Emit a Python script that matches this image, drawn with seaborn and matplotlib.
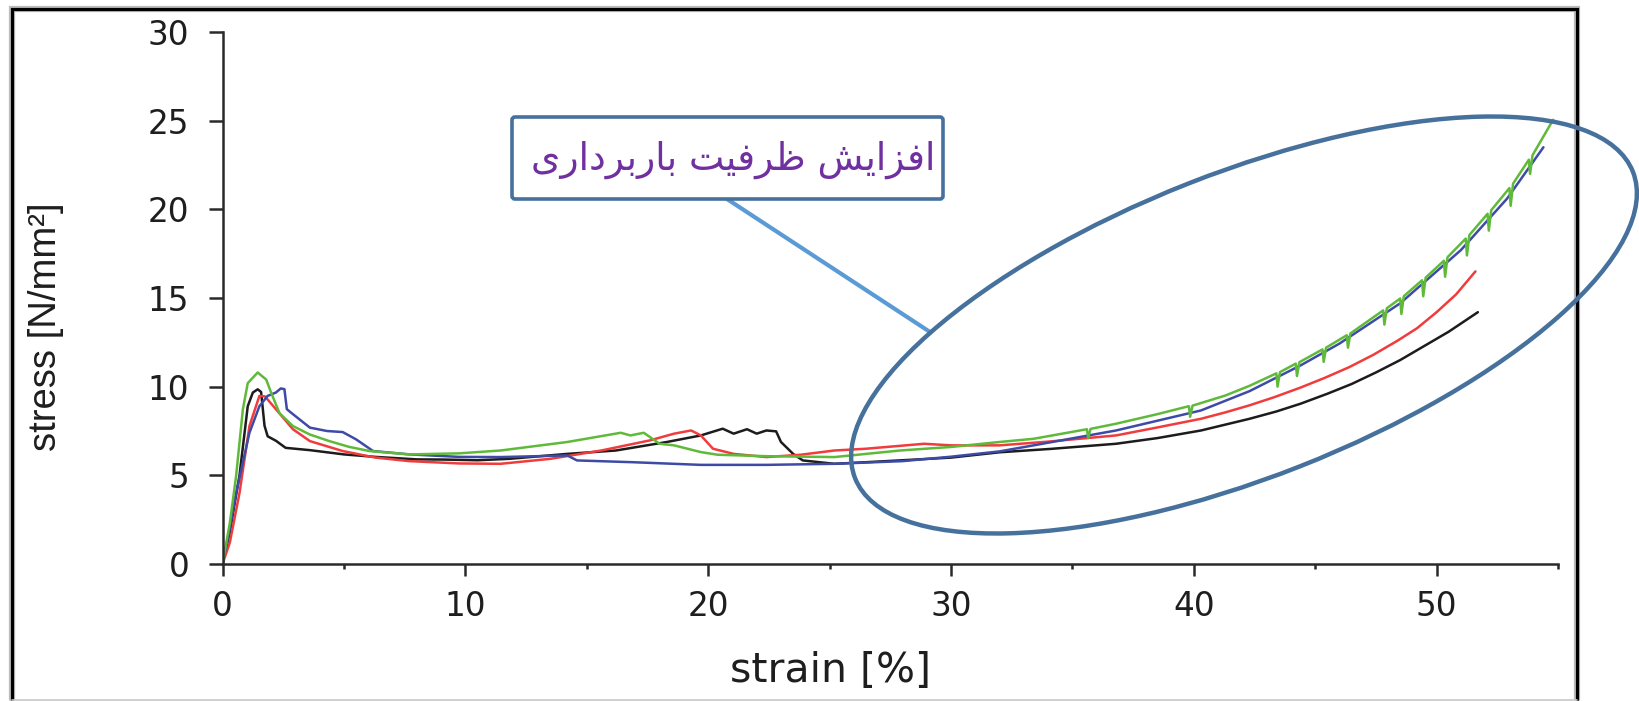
import matplotlib
matplotlib.use("Agg")
import numpy as np
import pandas as pd
import seaborn as sns
import matplotlib.pyplot as plt
from matplotlib.patches import Ellipse, FancyBboxPatch
from matplotlib.ticker import MultipleLocator
import matplotlib.font_manager as fm
from matplotlib.ft2font import FT2Font

# ---------------- data ----------------
black_strain = [0, 0.3, 0.7, 1.04, 1.25, 1.45, 1.59, 1.73, 1.86, 2.2, 2.6, 3.6, 5.0, 6.3, 8.0,
                9.1, 10.5, 11.8, 14.2, 16.2, 18.3, 19.7, 20.6, 21.05, 21.6, 22.0, 22.4, 22.8,
                23.0, 23.5, 23.9, 25.2, 26.5, 28.0, 30.0, 32.0, 34.1, 36.8, 38.5, 40.3, 42.3,
                43.4, 44.4, 45.5, 46.5, 47.5, 48.5, 49.5, 50.5, 51.7]
black_stress = [0, 1.8, 5.0, 8.9, 9.67, 9.85, 9.7, 7.8, 7.2, 6.95, 6.55, 6.42, 6.18, 6.04, 5.9,
                5.89, 5.85, 5.93, 6.21, 6.4, 6.88, 7.25, 7.63, 7.35, 7.6, 7.35, 7.53, 7.48,
                6.88, 6.21, 5.84, 5.65, 5.74, 5.85, 6.0, 6.3, 6.49, 6.78, 7.1, 7.53, 8.19,
                8.6, 9.04, 9.6, 10.15, 10.8, 11.5, 12.3, 13.1, 14.2]

red_strain = [0, 0.3, 0.7, 1.11, 1.52, 1.75, 2.2, 2.9, 3.6, 4.95, 6.3, 7.7, 9.75, 11.45, 13.5,
              15.6, 17.6, 18.6, 19.3, 19.7, 20.2, 21.05, 22.4, 23.8, 25.2, 26.5, 28.9, 30.0,
              32.0, 34.0, 36.8, 38.5, 40.3, 41.3, 42.3, 43.3, 44.4, 45.4, 46.4, 47.4, 48.4,
              49.2, 50.0, 50.8, 51.6]
red_stress = [0, 1.2, 4.0, 7.78, 9.48, 9.45, 8.73, 7.6, 6.93, 6.37, 6.0, 5.8, 5.67, 5.65, 5.93,
              6.4, 6.97, 7.35, 7.53, 7.25, 6.5, 6.21, 6.03, 6.16, 6.4, 6.5, 6.78, 6.69,
              6.69, 6.9, 7.25, 7.7, 8.19, 8.55, 8.95, 9.4, 9.95, 10.5, 11.1, 11.8, 12.6,
              13.3, 14.2, 15.2, 16.5]

blue_strain = [0, 0.3, 0.56, 1.11, 1.52, 1.86, 2.2, 2.4, 2.55, 2.65, 2.9, 3.6, 4.3, 4.95, 5.5,
               6.2, 7.7, 9.75, 11.45, 14.2, 14.6, 16.9, 19.7, 22.4, 25.2, 28.0, 30.0, 32.0,
               33.4, 36.8, 40.3, 42.3, 44.4, 46.0, 48.5, 51.0, 52.9, 54.4]
blue_stress = [0, 2.0, 4.0, 7.4, 8.9, 9.48, 9.67, 9.9, 9.86, 8.73, 8.45, 7.69, 7.5, 7.44, 7.03,
               6.37, 6.18, 6.04, 6.03, 6.12, 5.84, 5.74, 5.59, 5.59, 5.65, 5.8, 6.05, 6.35,
               6.69, 7.53, 8.66, 9.75, 11.2, 12.43, 14.7, 17.7, 20.6, 23.5]

green_strain = [0, 0.3, 0.56, 0.84, 1.04, 1.45, 1.8, 2.0, 2.35, 2.9, 3.6, 4.4, 5.2, 6.05, 7.7,
                9.75, 11.45, 14.2, 16.4, 16.8, 17.35, 18.0, 18.6, 19.7, 20.4, 22.4, 25.2, 27.9,
                30.0, 32.0, 33.4, 35.6, 35.65, 35.75, 36.8, 38.5, 39.8, 39.85, 39.95, 41.3,
                42.3, 43.4, 43.45, 43.55, 44.2, 44.25, 44.35, 45.3, 45.35, 45.45, 46.3, 46.35,
                46.45, 47.8, 47.85, 47.95, 48.5, 48.55, 48.65, 49.4, 49.45, 49.55, 50.3, 50.35,
                50.45, 51.2, 51.25, 51.35, 52.1, 52.15, 52.25, 53.0, 53.05, 53.15, 53.8, 53.85,
                53.95, 54.8]
green_stress = [0, 2.3, 4.96, 8.73, 10.2, 10.8, 10.4, 9.67, 8.5, 7.78, 7.3, 6.93, 6.61, 6.37, 6.18,
                6.24, 6.4, 6.88, 7.4, 7.25, 7.4, 6.78, 6.69, 6.31, 6.16, 6.08, 6.03, 6.4,
                6.6, 6.88, 7.06, 7.6, 7.1, 7.62, 7.91, 8.45, 8.9, 8.3, 8.93, 9.5,
                10.05, 10.75, 10.0, 10.82, 11.3, 10.6, 11.38, 12.1, 11.4, 12.2, 12.9, 12.2,
                13.0, 14.3, 13.5, 14.42, 14.97, 14.1, 15.1, 16.0, 15.1, 16.15, 17.1, 16.2,
                17.3, 18.35, 17.4, 18.55, 19.75, 18.8, 19.95, 21.2, 20.2, 21.45, 22.8, 22.0,
                23.05, 25.05]

specimens = ["black", "red", "blue", "green"]
line_colors = ["#1c1c1c", "#f03c3c", "#3d4ba6", "#5fba3a"]

x_ticks = [0, 10, 20, 30, 40, 50]
y_ticks = [0, 5, 10, 15, 20, 25, 30]
x_label = "strain [%]"
y_label = "stress [N/mm²]"
note_text = "افزایش ظرفیت باربرداری"

# ---------------- simple Arabic-script shaping for display ----------------
def _has_glyphs(codes):
    try:
        path = fm.findfont(fm.FontProperties(family="DejaVu Sans"))
        f = FT2Font(path)
        return all(f.get_char_index(c) != 0 for c in codes)
    except Exception:
        return False

if _has_glyphs([0xFBFC, 0xFBFD, 0xFBFE, 0xFBFF]):
    yeh = ("\uFBFC", "\uFBFD", "\uFBFE", "\uFBFF")
else:
    yeh = ("\uFEEF", "\uFEF0", "\uFEF3", "\uFEF4")

FORMS = {  # isolated, final, initial, medial
    "ا": ("\uFE8D", "\uFE8E", None, None),
    "ب": ("\uFE8F", "\uFE90", "\uFE91", "\uFE92"),
    "ت": ("\uFE95", "\uFE96", "\uFE97", "\uFE98"),
    "د": ("\uFEA9", "\uFEAA", None, None),
    "ر": ("\uFEAD", "\uFEAE", None, None),
    "ز": ("\uFEAF", "\uFEB0", None, None),
    "ش": ("\uFEB5", "\uFEB6", "\uFEB7", "\uFEB8"),
    "ظ": ("\uFEC5", "\uFEC6", "\uFEC7", "\uFEC8"),
    "ف": ("\uFED1", "\uFED2", "\uFED3", "\uFED4"),
    "ی": yeh,
}

def shape_rtl(text):
    out = []
    n = len(text)
    for i, ch in enumerate(text):
        f = FORMS.get(ch)
        if f is None:
            out.append(ch)
            continue
        prev = text[i - 1] if i > 0 else None
        nxt = text[i + 1] if i < n - 1 else None
        jp = prev in FORMS and FORMS[prev][2] is not None
        jn = (nxt in FORMS) and f[2] is not None
        if jp and jn:
            out.append(f[3])
        elif jp:
            out.append(f[1])
        elif jn:
            out.append(f[2])
        else:
            out.append(f[0])
    return "".join(out)[::-1]

# ---------------- figure ----------------
sns.set_theme(style="ticks")
plt.rcParams["font.family"] = ["DejaVu Sans"]

W, H = 1639, 701
fig = plt.figure(figsize=(W / 100, H / 100), dpi=100)
fig.patch.set_facecolor("white")

L, R, T, B = 222.5, 1558, 32, 564
ax = fig.add_axes([L / W, (H - B) / H, (R - L) / W, (B - T) / H])
ax.set_facecolor("white")

frames = []
for name, xs, ys in [("black", black_strain, black_stress), ("red", red_strain, red_stress),
                     ("blue", blue_strain, blue_stress), ("green", green_strain, green_stress)]:
    frames.append(pd.DataFrame({"strain": xs, "stress": ys, "specimen": name}))
df = pd.concat(frames, ignore_index=True)

sns.lineplot(data=df, x="strain", y="stress", hue="specimen", hue_order=specimens,
             palette=dict(zip(specimens, line_colors)), estimator=None, sort=False,
             legend=False, linewidth=1.8, ax=ax)

ax.set_xlim(0, 55)
ax.set_ylim(0, 30)
ax.set_xticks(x_ticks)
ax.set_yticks(y_ticks)
ax.xaxis.set_minor_locator(MultipleLocator(5))
sns.despine(ax=ax)
for s in ["left", "bottom"]:
    ax.spines[s].set_color("#2a2a2a")
    ax.spines[s].set_linewidth(1.8)
ax.tick_params(axis="x", which="major", direction="out", length=8.6, width=1.8,
               color="#2a2a2a", pad=10, labelsize=23.5, labelcolor="#1e1e1e")
ax.tick_params(axis="x", which="minor", direction="out", length=3.8, width=1.8, color="#2a2a2a")
ax.tick_params(axis="y", which="major", direction="out", length=10, width=1.8,
               color="#2a2a2a", pad=14, labelsize=23.5, labelcolor="#1e1e1e")

ax.set_xlabel(x_label, fontsize=29.5, color="#1e1e1e", ha="center", va="center")
ax.xaxis.set_label_coords((830 - L) / (R - L), (B - 671) / (B - T))
ax.set_ylabel(y_label, fontsize=27.5, color="#1e1e1e", family="Liberation Sans",
              ha="center", va="center", rotation=90)
ax.yaxis.set_label_coords((46 - L) / (R - L), (B - 327) / (B - T))

# ---------------- overlay annotations (pixel coordinates) ----------------
ov = fig.add_axes([0, 0, 1, 1])
ov.set_xlim(0, W)
ov.set_ylim(H, 0)
ov.axis("off")

# outer frame
ov.plot([12, 12, 1577, 1577], [699, 9, 9, 699], color="#bdbdbd", lw=4.5,
        solid_joinstyle="miter", zorder=1)
ov.plot([12, 12, 1577, 1577], [699, 9, 9, 699], color="black", lw=2.3,
        solid_joinstyle="miter", zorder=2)
ov.plot([12, 1577], [699.5, 699.5], color="#c8c8c8", lw=1.2, zorder=2)

# connector line
ov.plot([727, 930], [199, 332], color="#5b9bd5", lw=3, solid_capstyle="butt", zorder=3)

# ellipse
ov.add_patch(Ellipse((1244, 325), 836, 304, angle=-21.5, fill=False,
                     ec="#46719c", lw=3.2, zorder=5))

# text box
ov.add_patch(FancyBboxPatch((512, 117), 431, 82, boxstyle="round,pad=0,rounding_size=3",
                            ec="#46719c", fc="white", lw=2.6, zorder=4))
ov.text(733, 170, shape_rtl(note_text), ha="center", va="baseline", fontsize=27,
        color="#7030a0", family="DejaVu Sans", zorder=6)

fig.savefig("out.png", dpi=100, facecolor="white")
